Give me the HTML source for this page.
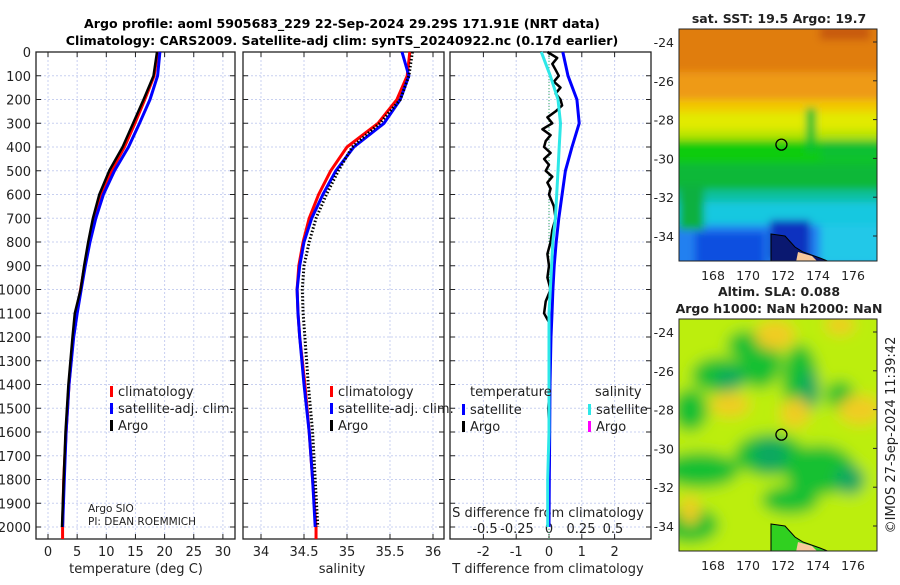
<!DOCTYPE html>
<html><head><meta charset="utf-8">
<style>
body{margin:0;background:#fff;width:900px;height:580px;overflow:hidden;font-family:"Liberation Sans","DejaVu Sans",sans-serif}
svg text{font-family:"DejaVu Sans","Liberation Sans",sans-serif}
</style></head>
<body>
<svg id="c" width="900" height="580" xmlns="http://www.w3.org/2000/svg">
<defs>
<filter id="bl1" x="-30%" y="-30%" width="160%" height="160%"><feGaussianBlur stdDeviation="4"/></filter>
<filter id="bl2" x="-30%" y="-30%" width="160%" height="160%"><feGaussianBlur stdDeviation="7"/></filter>
<clipPath id="cm1"><rect x="679" y="29" width="198" height="232"/></clipPath>
<clipPath id="cm2"><rect x="679" y="319" width="198" height="232"/></clipPath>
</defs>
<text x="342" y="28" text-anchor="middle" font-size="12.6" font-weight="bold">Argo profile: aoml 5905683_229 22-Sep-2024 29.29S 171.91E (NRT data)</text>
<text x="342" y="45" text-anchor="middle" font-size="12.6" font-weight="bold">Climatology: CARS2009. Satellite-adj clim: synTS_20240922.nc (0.17d earlier)</text>
<g id="g"></g>
</svg>
<script>
// ---- data ----
const depths = [0,100,200,300,400,500,600,700,800,900,1000,1100,1200,1400,1600,1800,2000];
const tempArgo = [18.7,18.1,16.4,14.6,12.8,10.5,8.8,7.7,6.9,6.2,5.6,4.6,4.2,3.5,3.0,2.7,2.4];
const tempClim = [18.8,18.2,16.6,14.9,13.1,10.9,9.1,7.9,7.0,6.3,5.6,4.9,4.3,3.6,3.1,2.7,2.5];
const tempSat = [19.2,18.8,17.5,15.7,13.8,11.4,9.5,8.2,7.2,6.4,5.7,5.0,4.4,3.6,3.1,2.8,2.5];
const salArgo = [35.76,35.72,35.62,35.38,35.06,34.90,34.76,34.64,34.56,34.50,34.48,34.49,34.51,34.55,34.60,34.63,34.66];
const salClim = [35.73,35.70,35.58,35.36,35.00,34.81,34.67,34.56,34.49,34.44,34.42,34.43,34.45,34.51,34.56,34.60,34.64];
const salSat = [35.64,35.72,35.62,35.43,35.08,34.87,34.72,34.59,34.50,34.45,34.42,34.43,34.45,34.50,34.56,34.60,34.63];
const dTempSat = [0.42,0.58,0.85,0.92,0.70,0.50,0.40,0.30,0.22,0.16,0.12,0.09,0.06,0.03,0.02,0.01,0.0];
const dSalSat = [-0.06,0.01,0.07,0.09,0.08,0.07,0.06,0.05,0.03,0.02,0.01,0.0,0.0,0.0,0.0,-0.01,-0.01];
const dDepths = [0,25,50,75,100,125,150,175,200,225,250,275,300,325,350,375,400,425,450,475,500,525,550,575,600,650,700,750,800,850,900,950,1000,1050,1100,1150,1200,1300,1400,1500,1600,1700,1800,1900,2000];
const dTempArgo = [-0.05,0.25,0.1,0.2,0.3,0.15,0.35,0.2,0.35,0.4,0.2,-0.05,0.1,-0.2,0.05,-0.1,-0.15,0.05,-0.15,0.0,-0.1,0.1,-0.05,0.05,0.0,0.15,0.2,0.1,0.05,-0.05,0.0,-0.05,0.05,-0.1,-0.15,0.05,0.0,0.02,0.03,-0.02,0.01,0.02,0.0,0.01,0.0];
const depthTicks = [0,100,200,300,400,500,600,700,800,900,1000,1100,1200,1300,1400,1500,1600,1700,1800,1900,2000];
const tTicks = [0,5,10,15,20,25,30];
const sTicks = [34,34.5,35,35.5,36];
const dtTicks = [-2,-1,0,1,2];
const dsTicks = [-0.5,-0.25,0,0.25,0.5];
const lonTicks = [168,170,172,174,176];
const latTicks = [-24,-26,-28,-30,-32,-34];

const NS='http://www.w3.org/2000/svg', G=document.getElementById('g');
function el(t,a,p){const e=document.createElementNS(NS,t);for(const k in a)e.setAttribute(k,a[k]);(p||G).appendChild(e);return e;}
const pTop=52,pBot=539;
const yD=d=>pTop+d*0.2375;
const panels=[{x0:36,x1:235,f:v=>48+v*5.83},{x0:243,x1:444,f:v=>261+(v-34)*86},{x0:450,x1:651,f:v=>549+v*32.8}];
const fS=v=>549+v*128;
function frame(p,xt,fx,nm){
  const g=el('g',{});
  
  
  depthTicks.forEach(d=>{el('line',{x1:p.x0,x2:p.x1,y1:yD(d),y2:yD(d),stroke:'#c8d0f0','stroke-dasharray':'2,2','stroke-width':1},g);});
  xt.forEach(v=>{el('line',{x1:fx(v),x2:fx(v),y1:pTop,y2:pBot,stroke:'#c8d0f0','stroke-dasharray':'2,2'},g);});
  depthTicks.forEach(d=>{el('line',{x1:p.x0,x2:p.x0+5,y1:yD(d),y2:yD(d),stroke:'#222'},g);el('line',{x1:p.x1-5,x2:p.x1,y1:yD(d),y2:yD(d),stroke:'#222'},g);});
  xt.forEach(v=>{el('line',{x1:fx(v),x2:fx(v),y1:pBot,y2:pBot-5,stroke:'#222'},g);el('line',{x1:fx(v),x2:fx(v),y1:pTop,y2:pTop+5,stroke:'#222'},g);});
  el('rect',{x:p.x0,y:pTop,width:p.x1-p.x0,height:pBot-pTop,fill:'none',stroke:'#222','stroke-width':1.3},g);
  return g;
}
function line(xs,ds,fx,col,w,dash,nm){
  const pts=xs.map((v,i)=>fx(v).toFixed(1)+','+yD(ds[i]).toFixed(1)).join(' ');
  const a={points:pts,fill:'none',stroke:col,'stroke-width':w,'stroke-linejoin':'round'};
  if(dash)a['stroke-dasharray']=dash;
  const e=el('polyline',a);
  
  
  return e;
}
function txt(x,y,s,sz,anchor,nm,extra){const a={x:x,y:y,'font-size':sz,'text-anchor':anchor||'start',fill:'#222'};Object.assign(a,extra||{});const e=el('text',a);e.textContent=s;return e;}

// panel 1
frame(panels[0],tTicks,panels[0].f,'temperature');
depthTicks.forEach(d=>txt(31,yD(d)+5,String(d),13,'end','depth-tick-label'));
tTicks.forEach(v=>txt(panels[0].f(v),556,String(v),13,'middle','temp-tick-label'));
txt(136,573,'temperature (deg C)',13,'middle','temp-axis-title');
el('line',{x1:panels[0].f(2.5),x2:panels[0].f(2.5),y1:yD(2000),y2:pBot,stroke:'#f00','stroke-width':3});
line(tempClim,depths,panels[0].f,'#f00',3,null,'temp-climatology-line');
line(tempSat,depths,panels[0].f,'#00f',3,null,'temp-satellite-line');
line(tempArgo,depths,panels[0].f,'#000',2.5,null,'temp-argo-line');
function legend(x,y,items){
  items.forEach((it,i)=>{
    el('rect',{x:x,y:y+i*17-9,width:3,height:11,fill:it[1]});
    txt(x+8,y+i*17+1,it[0],13,'start','legend-entry');
  });
}
legend(110,395,[['climatology','#f00'],['satellite-adj. clim.','#00f'],['Argo','#000']]);
txt(88,512,'Argo SIO',10.5,'start','argo-institution');
txt(88,525,'PI: DEAN ROEMMICH',10.5,'start','argo-pi');

// panel 2
frame(panels[1],sTicks,panels[1].f,'salinity');
sTicks.forEach(v=>txt(panels[1].f(v),556,String(v),13,'middle','sal-tick-label'));
txt(342,573,'salinity',13,'middle','sal-axis-title');
el('line',{x1:panels[1].f(34.64),x2:panels[1].f(34.64),y1:yD(2000),y2:pBot,stroke:'#f00','stroke-width':3});
line(salClim,depths,panels[1].f,'#f00',3,null,'sal-climatology-line');
line(salSat,depths,panels[1].f,'#00f',3,null,'sal-satellite-line');
line(salArgo,depths,panels[1].f,'#000',3,'1.5,2','sal-argo-line');
legend(330,395,[['climatology','#f00'],['satellite-adj. clim.','#00f'],['Argo','#000']]);

// panel 3
frame(panels[2],dtTicks,panels[2].f,'difference');
dtTicks.forEach(v=>txt(panels[2].f(v),556,String(v),13,'middle','dt-tick-label'));
dsTicks.forEach(v=>txt(fS(v),533,String(v),13,'middle','ds-tick-label'));
txt(548,517,'S difference from climatology',13,'middle','ds-axis-title');
txt(548,573,'T difference from climatology',13,'middle','dt-axis-title');
el('line',{x1:549,x2:549,y1:pTop,y2:pBot,stroke:'#3a6',"stroke-dasharray":'1,2'});
line(dTempArgo,dDepths,panels[2].f,'#000',2.5,null,'dtemp-argo-line');
line(dTempSat,depths,panels[2].f,'#00f',3,null,'dtemp-satellite-line');
line(dSalSat,depths,fS,'#2ee8e8',3,null,'dsal-satellite-line');
txt(470,396,'temperature',13,'start','legend-title-temperature');
txt(595,396,'salinity',13,'start','legend-title-salinity');
legend(462,413,[['satellite','#00f'],['Argo','#000']]);
legend(588,413,[['satellite','#2ee8e8'],['Argo','#f0f']]);

// maps
const fLon=v=>713+(v-168)*17.5;
// map 1 SST
const m1=el('g',{'clip-path':'url(#cm1)'});


const b1=el('g',{filter:'url(#bl1)'},m1);
[['#e07d10',0,0,250,85],['#ee9a12',0,72,250,30],['#f2c800',0,100,250,15],['#e2ea00',0,112,250,22],['#b8e400',0,130,250,12],['#10cc10',0,140,250,25],['#10b838',0,163,250,30],['#10c0a0',0,190,250,14],['#18c8e0',0,202,250,25],['#2080f0',0,225,250,60]].forEach(r=>el('rect',{x:660+r[1],y:r[2],width:r[3],height:r[4],fill:r[0]},b1));
el('rect',{x:820,y:225,width:70,height:40,fill:'#20c8e8'},b1);
el('rect',{x:679,y:185,width:25,height:45,fill:'#10b040'},b1);
el('rect',{x:806,y:108,width:10,height:45,fill:'#10c030'},b1);
el('rect',{x:820,y:140,width:60,height:20,fill:'#10c030'},b1);
el('rect',{x:770,y:220,width:40,height:40,fill:'#1030c0'},b1);
el('rect',{x:695,y:232,width:70,height:35,fill:'#1050e0'},b1);
el('rect',{x:820,y:25,width:50,height:15,fill:'#c85a0a'},b1);
el('path',{d:'M771 234 L785 236 L795 247 L803 252 L820 258 L830 262 L771 262 Z',fill:'#0a1870',stroke:'#000','stroke-width':1},m1);
el('path',{d:'M798 252 L812 256 L818 262 L796 262 Z',fill:'#f8c89a'},m1);
el('rect',{x:679,y:29,width:198,height:232,fill:'none',stroke:'#222'});
el('circle',{cx:fLon(171.91),cy:29+13+5.29*19.4,r:5.5,fill:'none',stroke:'#000','stroke-width':1.3});
txt(779,23,'sat. SST: 19.5 Argo: 19.7',12.5,'middle','sst-map-title',{'font-weight':'bold'});
latTicks.forEach(v=>{const y=42+(-24-v)*19.4;txt(674,y+5,String(v),12.5,'end','lat-tick-label');el('line',{x1:877,x2:873,y1:y,y2:y,stroke:'#222'});});
lonTicks.forEach(v=>txt(fLon(v),280,String(v),12.5,'middle','lon-tick-label'));
// map 2 SLA
const m2=el('g',{'clip-path':'url(#cm2)'});


el('rect',{x:679,y:319,width:198,height:232,fill:'#bcee10'},m2);
const b2=el('g',{filter:'url(#bl2)'},m2);
el('rect',{x:650,y:300,width:260,height:270,fill:'#bcee10'},b2);
[[720,375,40,25],[760,360,30,40],[800,380,25,50],[690,410,25,30],[770,455,50,30],[700,470,55,25],[820,470,50,35],[790,500,40,20],[690,525,40,25],[840,395,20,20],[745,345,25,20]].forEach(r=>el('ellipse',{cx:r[0],cy:r[1],rx:r[2]/1.4,ry:r[3]/1.4,fill:'#14c030'},b2));
[[770,455,18,16],[730,380,15,10],[810,390,10,20],[850,480,15,15]].forEach(r=>el('ellipse',{cx:r[0],cy:r[1],rx:r[2],ry:r[3],fill:'#10a860'},b2));
[[775,335,20,15],[840,325,15,10],[730,405,20,12],[795,413,15,15],[860,410,22,15],[690,510,10,15]].forEach(r=>el('ellipse',{cx:r[0],cy:r[1],rx:r[2],ry:r[3],fill:'#f0cc20'},b2));
el('path',{d:'M771 524 L785 526 L795 537 L803 542 L820 548 L830 552 L771 552 Z',fill:'#30d020',stroke:'#000','stroke-width':1},m2);
el('path',{d:'M798 542 L812 546 L818 552 L796 552 Z',fill:'#f8c89a'},m2);
el('rect',{x:679,y:319,width:198,height:232,fill:'none',stroke:'#222'});
el('circle',{cx:fLon(171.91),cy:332+5.29*19.4,r:5.5,fill:'none',stroke:'#000','stroke-width':1.3});
txt(779,296,'Altim. SLA: 0.088',12.5,'middle','sla-map-title',{'font-weight':'bold'});
txt(779,313,'Argo h1000: NaN h2000: NaN',12.5,'middle','sla-map-subtitle',{'font-weight':'bold'});
latTicks.forEach(v=>{const y=332+(-24-v)*19.4;txt(674,y+5,String(v),12.5,'end','lat-tick-label');el('line',{x1:877,x2:873,y1:y,y2:y,stroke:'#222'});});
lonTicks.forEach(v=>txt(fLon(v),570,String(v),12.5,'middle','lon-tick-label'));
txt(0,0,'©IMOS 27-Sep-2024 11:39:42',13,'middle','timestamp',{transform:'translate(895,435) rotate(-90)'});
</script>
</body></html>
